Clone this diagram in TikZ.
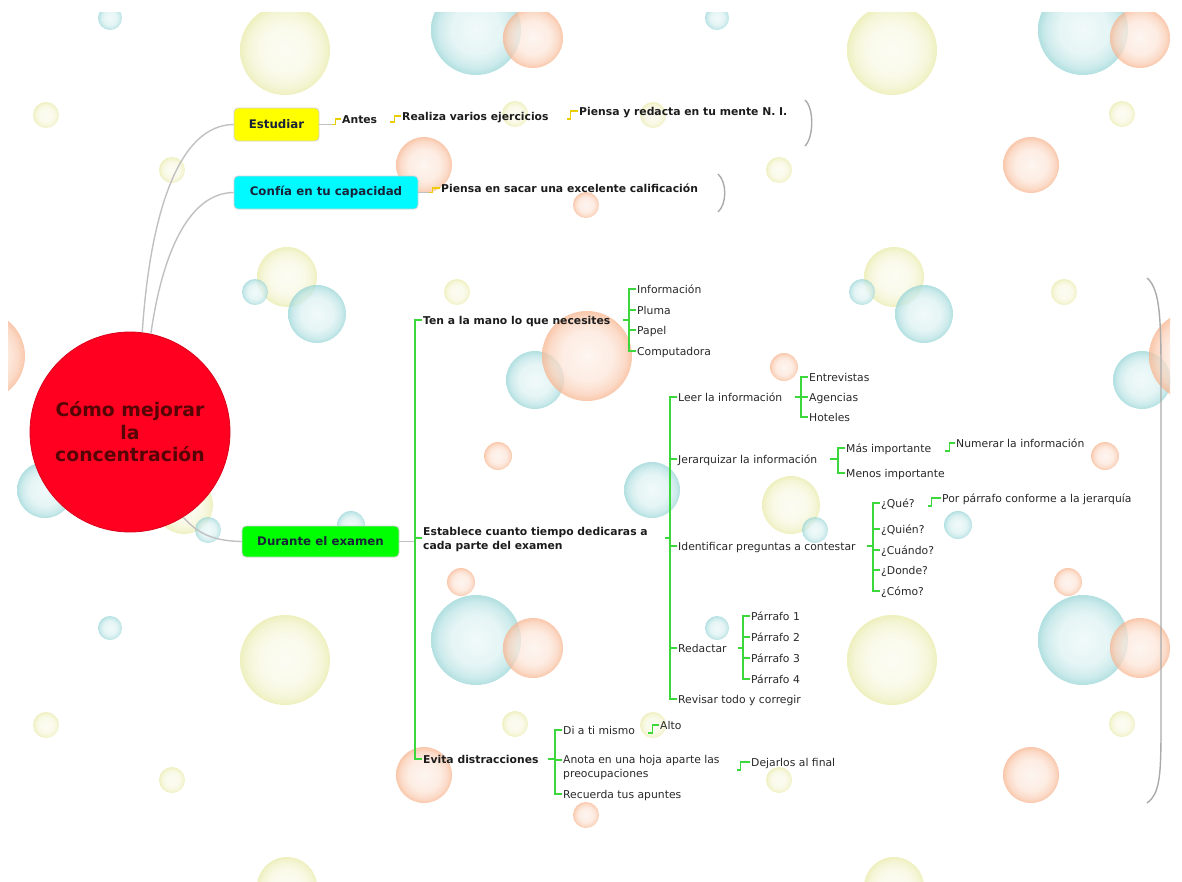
\documentclass[tikz,border=0pt]{standalone}
\usepackage{fontspec}
\setmainfont{DejaVu Sans}
\definecolor{bt}{RGB}{140,208,210}
\definecolor{bo}{RGB}{246,172,130}
\definecolor{by}{RGB}{230,232,160}
\definecolor{bcol}{RGB}{140,208,210}
\definecolor{lgreen}{RGB}{60,215,60}
\definecolor{lyel}{RGB}{235,205,0}
\definecolor{lgray}{RGB}{192,192,192}
\definecolor{bgray}{RGB}{170,170,170}
\definecolor{txtc}{RGB}{40,40,40}
\definecolor{txtb}{RGB}{28,28,28}
\definecolor{boxtxt}{RGB}{25,35,55}
\definecolor{rootred}{RGB}{255,0,32}
\definecolor{roottxt}{RGB}{85,5,5}
\definecolor{fyel}{RGB}{255,255,0}
\definecolor{fcyan}{RGB}{0,250,255}
\definecolor{fgreen}{RGB}{0,255,0}
\pgfdeclareradialshading[bcol]{bubble}{\pgfpointorigin}{color(0bp)=(bcol!16!white); color(14bp)=(bcol!30!white); color(21bp)=(bcol!58!white); color(25bp)=(bcol!90!white); color(50bp)=(bcol!90!white)}
\newcommand\bub[4]{\colorlet{bcol}{#1}\shade[shading=bubble,opacity=.75] (#2,#3) circle[radius=#4];}
\newcommand\bubtile{%
\bub{bt}{110}{18}{12}\bub{by}{285}{50}{45}\bub{bt}{476}{30}{45}\bub{bo}{533}{38}{30}%
\bub{by}{46}{115}{13}\bub{by}{515}{114}{13}\bub{by}{172}{170}{13}\bub{bo}{424}{165}{28}%
\bub{bo}{586}{205}{13}\bub{by}{287}{277}{30}\bub{bt}{255}{292}{13}\bub{bt}{317}{314}{29}%
\bub{by}{457}{292}{13}\bub{bo}{-20}{356}{45}\bub{bt}{535}{380}{29}\bub{bo}{177}{367}{14}%
\bub{bt}{45}{490}{28}\bub{bo}{498}{456}{14}\bub{by}{184}{505}{29}\bub{bt}{208}{530}{13}%
\bub{bt}{351}{525}{14}\bub{bo}{461}{582}{14}}
\tikzset{
  tx/.style={anchor=west,inner sep=1pt,text=txtc,text height=10pt,text depth=.5pt,font=\fontsize{10.8}{14}\selectfont},
  bx/.style={tx,text=txtb,font=\fontsize{10.8}{14}\selectfont\bfseries},
  gl/.style={draw=lgreen,line width=1.1pt},
  yl/.style={draw=lyel,line width=1.1pt},
  gc/.style={draw=lgray,line width=1.4pt},
  brk/.style={draw=bgray,line width=1.4pt},
  topic/.style={draw=black!18,line width=.8pt,rounded corners=4pt,inner sep=0pt,font=\fontsize{11.8}{14}\selectfont\bfseries,text=boxtxt,minimum height=33pt}
}
\begin{document}
\begin{tikzpicture}[x=1pt,y=-1pt]
\useasboundingbox (0,0) rectangle (1182,881);
% background bubbles
\begin{scope}
\clip (8,12) rectangle (1170,881);
\foreach \dx in {0,607,1214}{\foreach \dy in {0,610}{
  \begin{scope}[shift={(\dx,\dy)}]\bubtile\end{scope}}}
\end{scope}
% root and topics
\node[circle,fill=rootred,draw=rootred!85!black,line width=.8pt,minimum size=200pt,inner sep=0pt,align=center,font=\fontsize{18.8}{22.5}\selectfont\bfseries,text=roottxt] (root) at (130,432) {Cómo mejorar\\la\\concentración};
\node[topic,fill=fyel,minimum width=85pt] (est) at (276.5,124.5) {Estudiar};
\node[topic,fill=fcyan,minimum width=184pt] (conf) at (326,192.5) {Confía en tu capacidad};
\node[topic,fill=fgreen,minimum width=157pt,minimum height=31pt] (dur) at (320.5,541.5) {Durante el examen};
\draw[gc] (root.83) .. controls (150,215) and (178,125) .. (est.west);
\draw[gc] (root.78) .. controls (162,255) and (188,193) .. (conf.west);
\draw[gc] (root.-58) .. controls (198,534) and (214,541) .. (dur.west);
% Estudiar branch
\node[bx] (antes) at (341,119) {Antes};
\node[bx] (rea) at (401,116) {Realiza varios ejercicios};
\node[bx] (pie1) at (578,111) {Piensa y redacta en tu mente N. I.};
\draw[gc] (est.east) -- ++(13,0) coordinate (ea);
\draw[yl] (ea) -- ++(3,0) |- (antes.west);
\draw[yl] ([xshift=12pt,yshift=-3pt]antes.east) -- ++(4,0) |- (rea.west);
\draw[yl] ([xshift=17pt,yshift=-3pt]rea.east) -- ++(4,0) |- (pie1.west);
% Confia branch
\node[bx] (pie2) at (440,188) {Piensa en sacar una excelente calificación};
\draw[gc] (conf.east) -- ++(11,0) coordinate (ca);
\draw[yl] (ca) -- ++(3,0) |- (pie2.west);
% brackets
\draw[brk] (805,100) .. controls (814,108) and (814,137) .. (805,146);
\draw[brk] (718,174) .. controls (727,182) and (727,204) .. (718,212);
\draw[brk] (1147,278) .. controls (1162,290) and (1161,330) .. (1161,400) -- (1161,700) .. controls (1161,770) and (1162,792) .. (1147,803);
% spines
\coordinate (sDur) at (415,0);
\coordinate (sTen) at (629,0);
\coordinate (sEst) at (670,0);
\coordinate (sLeer) at (801,0);
\coordinate (sJer) at (838,0);
\coordinate (sId) at (873,0);
\coordinate (sRed) at (743,0);
\coordinate (sEv) at (555,0);
% Durante children
\node[bx] (ten) at (422,320) {Ten a la mano lo que necesites};
\node[bx,align=left,text height=,text depth=] (estab) at (422,540) {Establece cuanto tiempo dedicaras a\\cada parte del examen};
\node[bx] (evita) at (422,759) {Evita distracciones};
\draw[gc] (dur.east) -- (dur.east -| sDur);
\draw[gl] (ten.west) -- (ten.west -| sDur) |- (evita.west);
\draw[gl] ([yshift=2pt]estab.west) -- ([yshift=2pt]estab.west -| sDur);
% Ten children
\node[tx] (inf) at (636,289) {Información};
\node[tx] (plu) at (636,310) {Pluma};
\node[tx] (pap) at (636,330) {Papel};
\node[tx] (com) at (636,351) {Computadora};
\draw[gl] ([xshift=12pt]ten.east) -- (ten.east -| sTen);
\draw[gl] (inf.west) -- (inf.west -| sTen) |- (com.west);
\draw[gl] (plu.west) -- (plu.west -| sTen);
\draw[gl] (pap.west) -- (pap.west -| sTen);
% Establece children
\node[tx] (leer) at (677,397) {Leer la información};
\node[tx] (jer) at (677,459) {Jerarquizar la información};
\node[tx] (ide) at (677,546) {Identificar preguntas a contestar};
\node[tx] (red) at (677,648) {Redactar};
\node[tx] (rev) at (677,699) {Revisar todo y corregir};
\draw[gl] ([xshift=16pt,yshift=2pt]estab.east) -- ([yshift=2pt]estab.east -| sEst);
\draw[gl] (leer.west) -- (leer.west -| sEst) |- (rev.west);
\draw[gl] (jer.west) -- (jer.west -| sEst);
\draw[gl] (ide.west) -- (ide.west -| sEst);
\draw[gl] (red.west) -- (red.west -| sEst);
% Leer children
\node[tx] (ent) at (808,377) {Entrevistas};
\node[tx] (age) at (808,397) {Agencias};
\node[tx] (hot) at (808,417) {Hoteles};
\draw[gl] ([xshift=12pt]leer.east) -- (leer.east -| sLeer);
\draw[gl] (ent.west) -- (ent.west -| sLeer) |- (hot.west);
\draw[gl] (age.west) -- (age.west -| sLeer);
% Jerarquizar children
\node[tx] (mas) at (845,448) {Más importante};
\node[tx] (men) at (845,473) {Menos importante};
\node[tx] (num) at (955,443) {Numerar la información};
\draw[gl] ([xshift=11pt]jer.east) -- (jer.east -| sJer);
\draw[gl] (mas.west) -- (mas.west -| sJer) |- (men.west);
\draw[gl] ([xshift=13pt,yshift=-3pt]mas.east) -- ++(4,0) |- (num.west);
% Identificar children
\node[tx] (que) at (880,503) {¿Qué?};
\node[tx] (qui) at (880,529) {¿Quién?};
\node[tx] (cua) at (880,550) {¿Cuándo?};
\node[tx] (don) at (880,570) {¿Donde?};
\node[tx] (com2) at (880,591) {¿Cómo?};
\node[tx] (por) at (941,498) {Por párrafo conforme a la jerarquía};
\draw[gl] ([xshift=10pt]ide.east) -- (ide.east -| sId);
\draw[gl] (que.west) -- (que.west -| sId) |- (com2.west);
\draw[gl] (qui.west) -- (qui.west -| sId);
\draw[gl] (cua.west) -- (cua.west -| sId);
\draw[gl] (don.west) -- (don.west -| sId);
\draw[gl] ([xshift=12pt,yshift=-3pt]que.east) -- ++(4,0) |- (por.west);
% Redactar children
\node[tx] (p1) at (750,616) {Párrafo 1};
\node[tx] (p2) at (750,637) {Párrafo 2};
\node[tx] (p3) at (750,658) {Párrafo 3};
\node[tx] (p4) at (750,679) {Párrafo 4};
\draw[gl] ([xshift=10pt]red.east) -- (red.east -| sRed);
\draw[gl] (p1.west) -- (p1.west -| sRed) |- (p4.west);
\draw[gl] (p2.west) -- (p2.west -| sRed);
\draw[gl] (p3.west) -- (p3.west -| sRed);
% Evita children
\node[tx] (di) at (562,730) {Di a ti mismo};
\node[tx,align=left,text height=,text depth=] (ano) at (562,768) {Anota en una hoja aparte las\\preocupaciones};
\node[tx] (rec) at (562,794) {Recuerda tus apuntes};
\node[tx] (alto) at (659,725) {Alto};
\node[tx] (dej) at (750,762) {Dejarlos al final};
\draw[gl] ([xshift=8pt]evita.east) -- (evita.east -| sEv);
\draw[gl] (di.west) -- (di.west -| sEv) |- (rec.west);
\draw[gl] ([yshift=8pt]ano.west) -- ([yshift=8pt]ano.west -| sEv);
\draw[gl] ([xshift=12pt,yshift=-3pt]di.east) -- ++(4,0) |- (alto.west);
\draw[gl] ([xshift=16pt,yshift=-2pt]ano.east) -- ++(4,0) |- (dej.west);
\end{tikzpicture}
\end{document}
